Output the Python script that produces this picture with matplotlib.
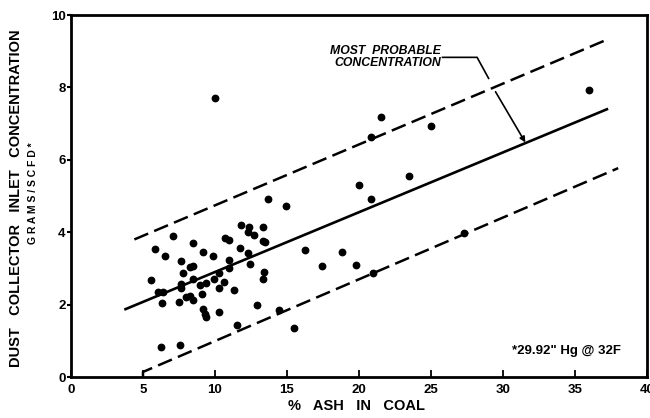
import matplotlib
matplotlib.use("Agg")
import matplotlib.pyplot as plt

plt.rcParams['font.family'] = ['Liberation Sans', 'DejaVu Sans']
plt.rcParams['font.weight'] = 'bold'

# measured points: % ash in coal vs inlet dust concentration (grams/SCFD)
ash_pct = [5.54, 5.8, 6.55, 7.05, 7.65, 7.8, 8.5, 8.25, 8.46, 9.15,
           9.85, 10.7, 11.0, 11.0, 11.8, 12.35, 12.3, 12.7, 13.35, 13.3,
           13.5, 11.75, 12.3, 12.4, 13.4, 13.3, 16.25, 17.4, 6.02, 6.38,
           6.35, 6.27, 7.56, 7.52, 7.66, 7.66, 8.0, 8.28, 8.46, 8.45,
           8.95, 9.1, 9.35, 9.2, 9.3, 9.4, 10.3, 9.95, 10.25, 10.25,
           10.6, 11.0, 11.35, 11.5, 12.95, 14.45, 15.5, 10.0, 13.65, 14.9,
           18.85, 19.8, 21.0, 20.0, 20.8, 20.8, 21.5, 23.5, 25.0, 27.3,
           36.0]
dust_conc = [2.68, 3.53, 3.35, 3.89, 3.2, 2.87, 3.69, 3.05, 3.06, 3.44,
             3.35, 3.85, 3.78, 3.22, 4.19, 4.13, 4.0, 3.92, 4.14, 3.76,
             3.73, 3.55, 3.42, 3.13, 2.9, 2.72, 3.52, 3.08, 2.35, 2.35,
             2.04, 0.84, 0.88, 2.07, 2.56, 2.47, 2.2, 2.23, 2.12, 2.72,
             2.53, 2.28, 2.6, 1.88, 1.75, 1.66, 1.8, 2.72, 2.45, 2.88,
             2.63, 3.0, 2.39, 1.45, 2.0, 1.84, 1.34, 7.72, 4.93, 4.73,
             3.45, 3.09, 2.88, 5.3, 4.91, 6.63, 7.18, 5.55, 6.93, 3.99,
             7.92]

# most probable line and the band limits
fit_x = [3.7, 37.3]
fit_y = [1.86, 7.41]
upper_x = [4.4, 37.4]
upper_y = [3.80, 9.35]
lower_x = [5.0, 5.0, 38.0]
lower_y = [0.0, 0.14, 5.77]

x_ticks = [0, 5, 10, 15, 20, 25, 30, 35, 40]
y_ticks = [0, 2, 4, 6, 8, 10]

fig = plt.figure(figsize=(6.5, 4.18), dpi=100)
ax = fig.add_axes([71 / 650, 41 / 418, 576 / 650, 362 / 418])

ax.plot(ash_pct, dust_conc, 'o', color='black', ms=4.6, mec='black')
ax.plot(fit_x, fit_y, color='black', lw=1.9, solid_capstyle='butt')
ax.plot(upper_x, upper_y, color='black', lw=1.8, dashes=(6, 2.6))
ax.plot(lower_x, lower_y, color='black', lw=1.8, dashes=(6, 2.6))

ax.set_xlim(0, 40)
ax.set_ylim(0, 10)
ax.set_xticks(x_ticks)
ax.set_yticks(y_ticks)
ax.tick_params(axis='x', direction='in', length=5, width=1.3, labelsize=9.5, pad=5)
ax.tick_params(axis='y', direction='out', length=3, width=1.5, labelsize=9.5, pad=1)
for s in ax.spines.values():
    s.set_linewidth(2.0)

# annotation with leader (broken where it crosses the dashed line)
ax.text(25.7, 8.85, "MOST  PROBABLE\nCONCENTRATION", ha='right', va='center',
        fontsize=8.8, style='italic', linespacing=1.0, multialignment='right')
ax.plot([25.8, 28.2, 29.0], [8.83, 8.83, 8.25], color='black', lw=1.2)
ax.annotate('', xy=(31.55, 6.48), xytext=(29.48, 7.88),
            arrowprops=dict(arrowstyle='-|>', lw=1.2, color='black',
                            mutation_scale=8, shrinkA=0, shrinkB=0))

ax.text(30.6, 0.72, '*29.92" Hg @ 32F', ha='left', va='center', fontsize=9.5)

fig.text(16 / 650, 1 - 198 / 418, "DUST   COLLECTOR   INLET   CONCENTRATION",
         rotation=90, ha='center', va='center', fontsize=10.5)
fig.text(33 / 650, 1 - 193 / 418, "G R A M S / S C F D *", rotation=90,
         ha='center', va='center', fontsize=7.5)
fig.text(356 / 650, 1 - 406 / 418, "%   ASH   IN   COAL", ha='center', va='center',
         fontsize=10.5)

fig.savefig('out.png', dpi=100)
